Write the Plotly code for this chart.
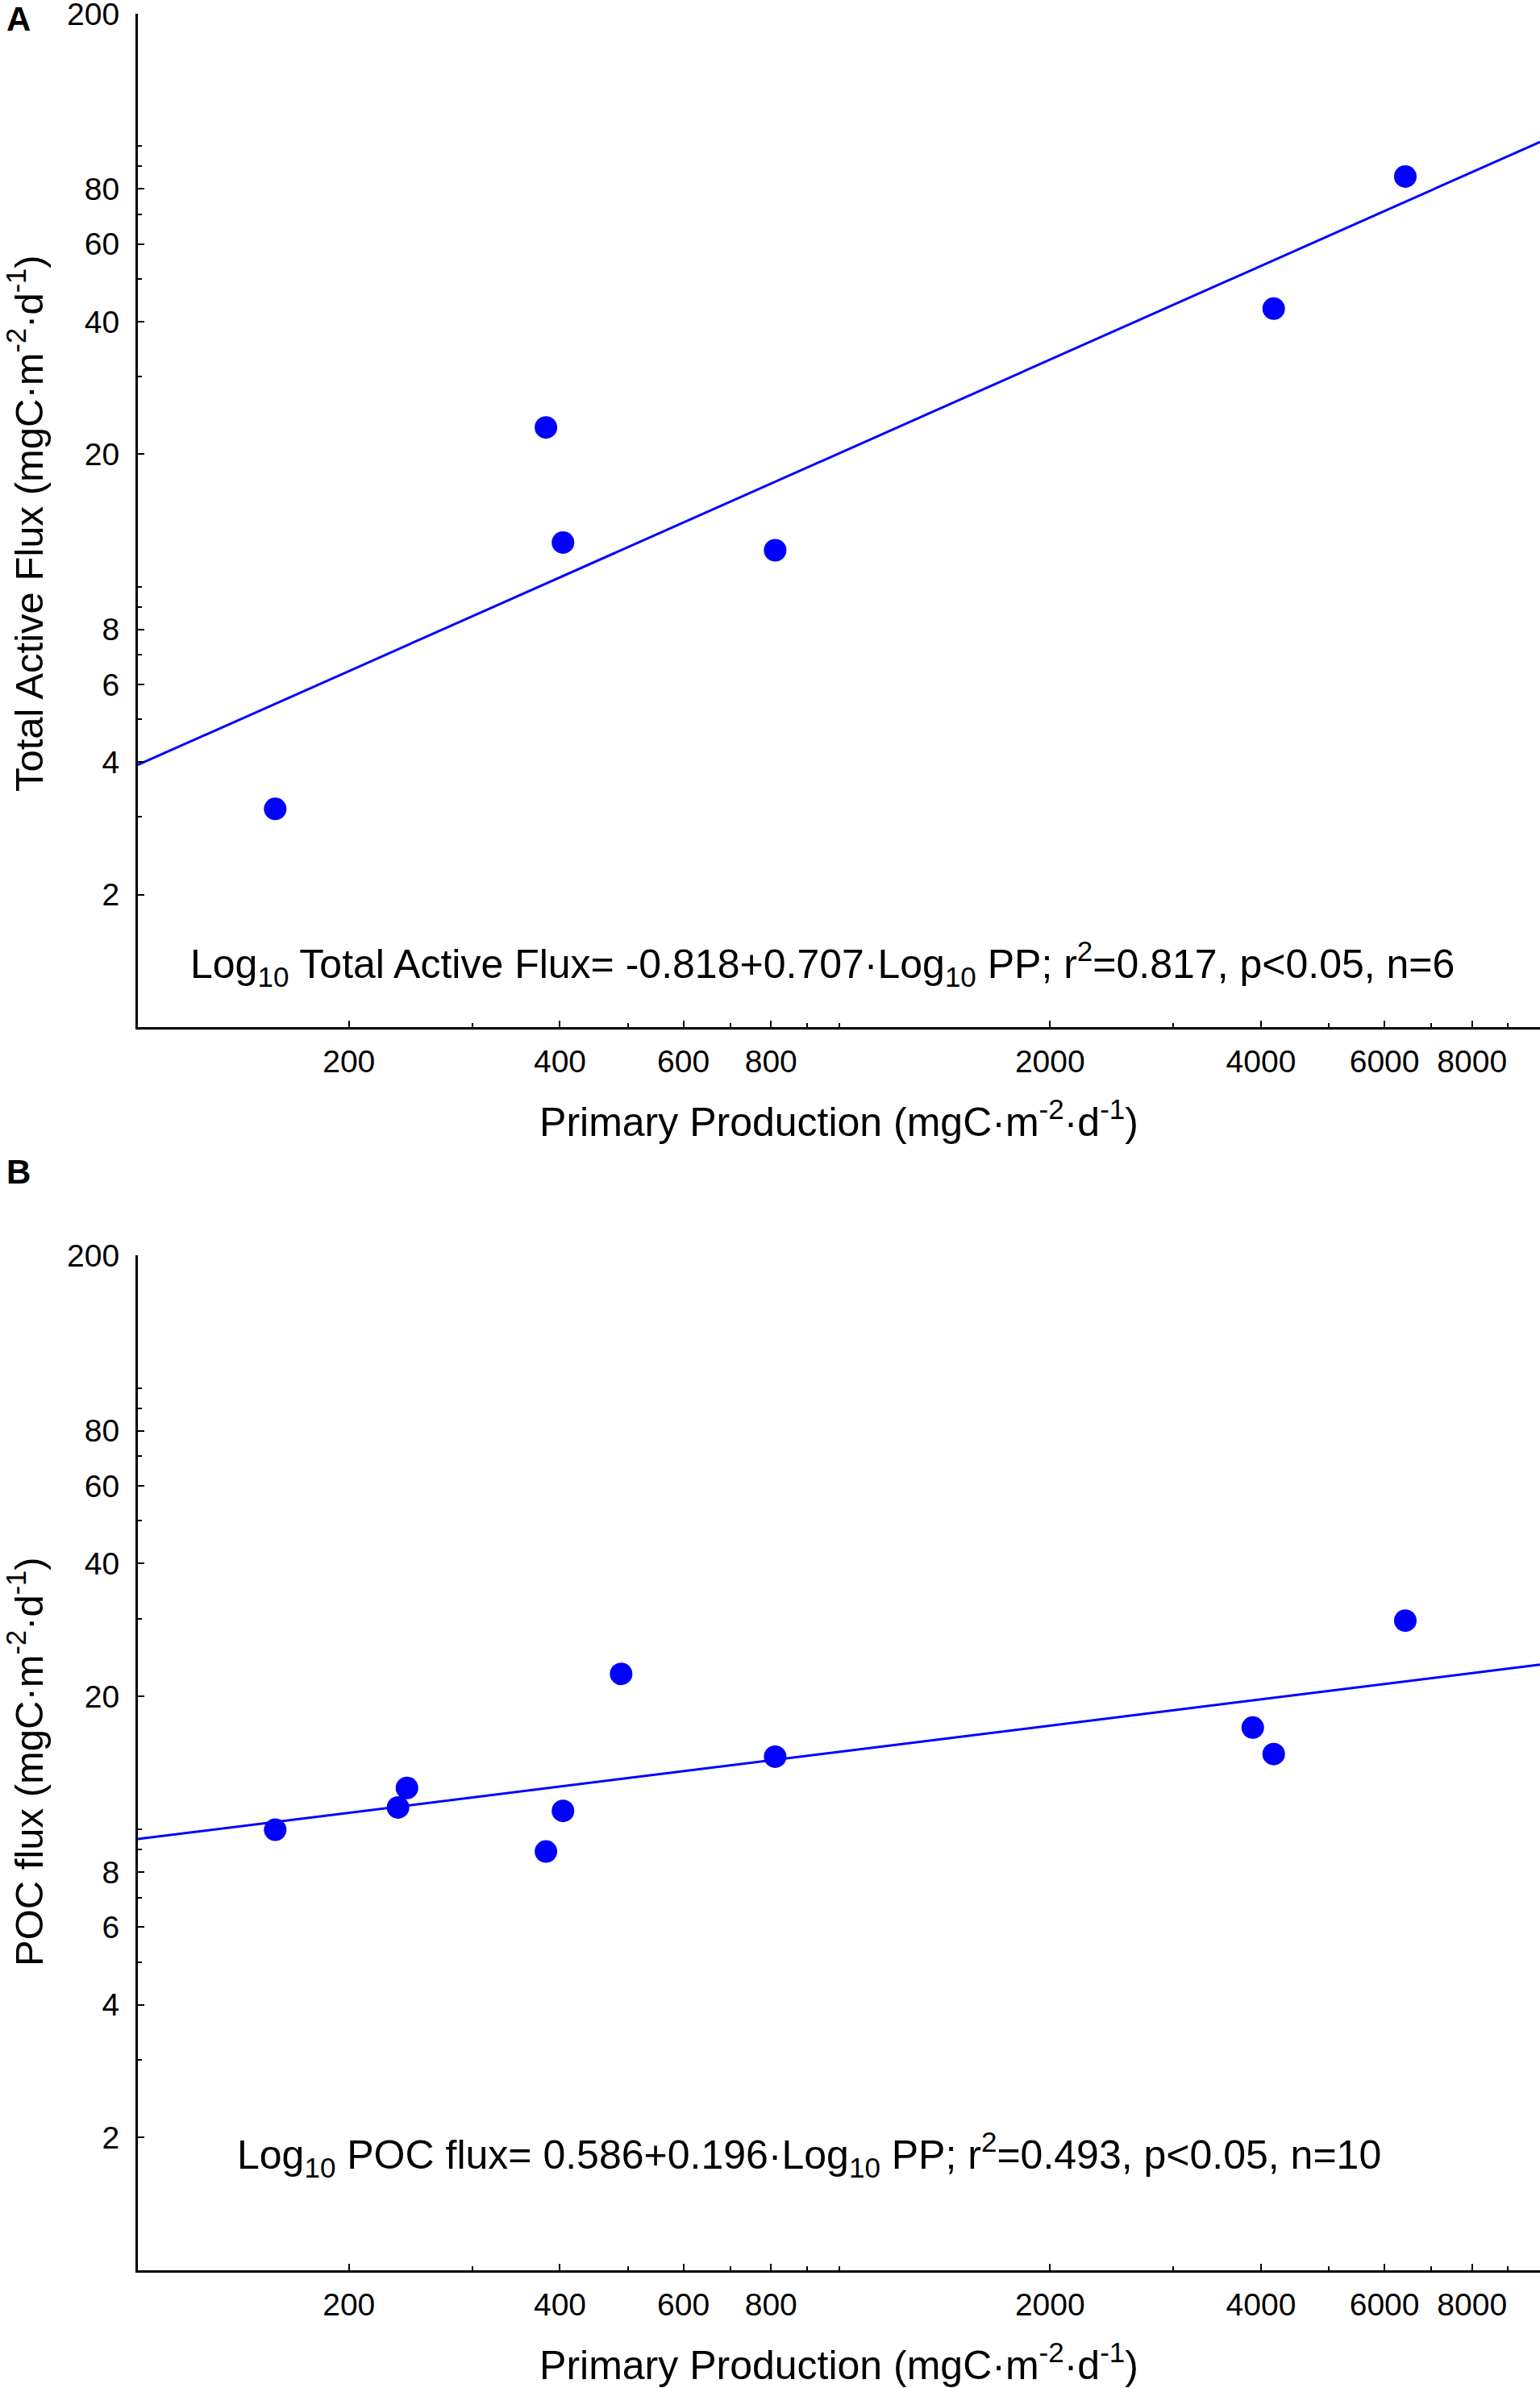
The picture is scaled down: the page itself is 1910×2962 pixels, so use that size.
import plotly.graph_objects as go

# Panel A: total active flux vs primary production
pp_a = [157, 382, 404, 811, 4170, 6425]
flux_a = [3.13, 23.0, 12.6, 12.1, 42.8, 85.4]
fit_x_a = [100, 10000]
fit_y_a = [3.94, 102.3]

# Panel B: POC flux vs primary production
pp_b = [157, 235, 242, 382, 404, 489, 811, 3893, 4170, 6425]
flux_b = [9.97, 11.2, 12.4, 8.9, 11.0, 22.5, 14.6, 17.0, 14.8, 29.7]
fit_x_b = [100, 10000]
fit_y_b = [9.5, 23.6]

x_major = [200, 400, 600, 800, 2000, 4000, 6000, 8000]
x_minor = [300, 500, 700, 900, 1000, 3000, 5000, 7000, 9000]
y_major = [2, 4, 6, 8, 20, 40, 60, 80, 200]
y_minor = [3, 5, 7, 9, 10, 30, 50, 70, 90, 100]

eq_a = ("Log<sub>10</sub> Total Active Flux= -0.818+0.707·Log<sub>10</sub> PP; "
        "r<sup>2</sup>=0.817, p<0.05, n=6")
eq_b = ("Log<sub>10</sub> POC flux= 0.586+0.196·Log<sub>10</sub> PP; "
        "r<sup>2</sup>=0.493, p<0.05, n=10")
ytitle_a = "Total Active Flux (mgC·m<sup>-2</sup>·d<sup>-1</sup>)"
ytitle_b = "POC flux (mgC·m<sup>-2</sup>·d<sup>-1</sup>)"
xtitle = "Primary Production (mgC·m<sup>-2</sup>·d<sup>-1</sup>)"

FONT = "Arial, Liberation Sans, sans-serif"
BLUE = "#0000ff"
W, H = 1910, 2962
ML, MR, MT, MB = 171, 0, 17, 146
PW, PH = W - ML - MR, H - MT - MB


def py(pix):
    # pixel row -> paper fraction
    return (H - MB - pix) / PH


def px(pix):
    # pixel column -> paper fraction
    return (pix - ML) / PW


fig = go.Figure()

for i, (xs, ys, fx, fy) in enumerate([(pp_a, flux_a, fit_x_a, fit_y_a),
                                       (pp_b, flux_b, fit_x_b, fit_y_b)]):
    sfx = "" if i == 0 else "2"
    fig.add_trace(go.Scatter(x=fx, y=fy, mode="lines",
                             line=dict(color=BLUE, width=3),
                             xaxis="x" + sfx, yaxis="y" + sfx, showlegend=False))
    fig.add_trace(go.Scatter(x=xs, y=ys, mode="markers",
                             marker=dict(color=BLUE, size=28),
                             xaxis="x" + sfx, yaxis="y" + sfx, showlegend=False))

xaxis_common = dict(
    type="log", range=[2, 4], showgrid=False, zeroline=False, automargin=False,
    showline=True, linecolor="black", linewidth=3,
    ticks="inside", ticklen=8, tickwidth=2, tickcolor="black",
    tickmode="array", tickvals=x_major, ticktext=[str(v) for v in x_major],
    ticklabelstandoff=6, ticklabeloverflow="allow",
    minor=dict(tickmode="array", tickvals=x_minor, ticks="inside",
               ticklen=5, tickwidth=2, tickcolor="black"),
    tickfont=dict(family=FONT, size=39, color="black"),
    title=dict(text=xtitle, font=dict(family=FONT, size=50, color="black"),
               standoff=38),
)
yaxis_common = dict(
    type="log", range=[0, 2.3011], showgrid=False, zeroline=False, automargin=False,
    showline=True, linecolor="black", linewidth=3,
    ticks="inside", ticklen=8, tickwidth=2, tickcolor="black",
    tickmode="array", tickvals=y_major, ticktext=[str(v) for v in y_major],
    ticklabelstandoff=12, ticklabeloverflow="allow",
    minor=dict(tickmode="array", tickvals=y_minor, ticks="inside",
               ticklen=5, tickwidth=2, tickcolor="black"),
    tickfont=dict(family=FONT, size=39, color="black"),
)


def text_note(text, x, y, size, xanchor="center", yanchor="middle", angle=0):
    return dict(text=text, x=x, y=y, xref="paper", yref="paper", showarrow=False,
                xanchor=xanchor, yanchor=yanchor, textangle=angle,
                font=dict(family=FONT, size=size, color="black"))


fig.update_layout(
    width=W, height=H,
    margin=dict(l=ML, r=MR, t=MT, b=MB, autoexpand=False),
    paper_bgcolor="white", plot_bgcolor="white",
    font=dict(family=FONT, color="black"),
    xaxis=dict(xaxis_common, domain=[0, 1], anchor="y"),
    yaxis=dict(yaxis_common, domain=[py(1274), 1], anchor="x"),
    xaxis2=dict(xaxis_common, domain=[0, 1], anchor="y2"),
    yaxis2=dict(yaxis_common, domain=[0, py(1557)], anchor="x2"),
    annotations=[
        text_note(ytitle_a, px(32), py(650), 49, angle=-90),
        text_note(ytitle_b, px(32), py(2186), 49, angle=-90),
        text_note(eq_a, px(1020), py(1195), 50),
        text_note(eq_b, px(1003), py(2672), 50),
        text_note("<b>A</b>", px(6), py(23), 42, "left", "middle"),
        text_note("<b>B</b>", px(6), py(1453), 42, "left", "middle"),
    ],
)

fig.write_html("out.html", config={"displayModeBar": False},
               post_script="document.body.style.margin = '0px';")
